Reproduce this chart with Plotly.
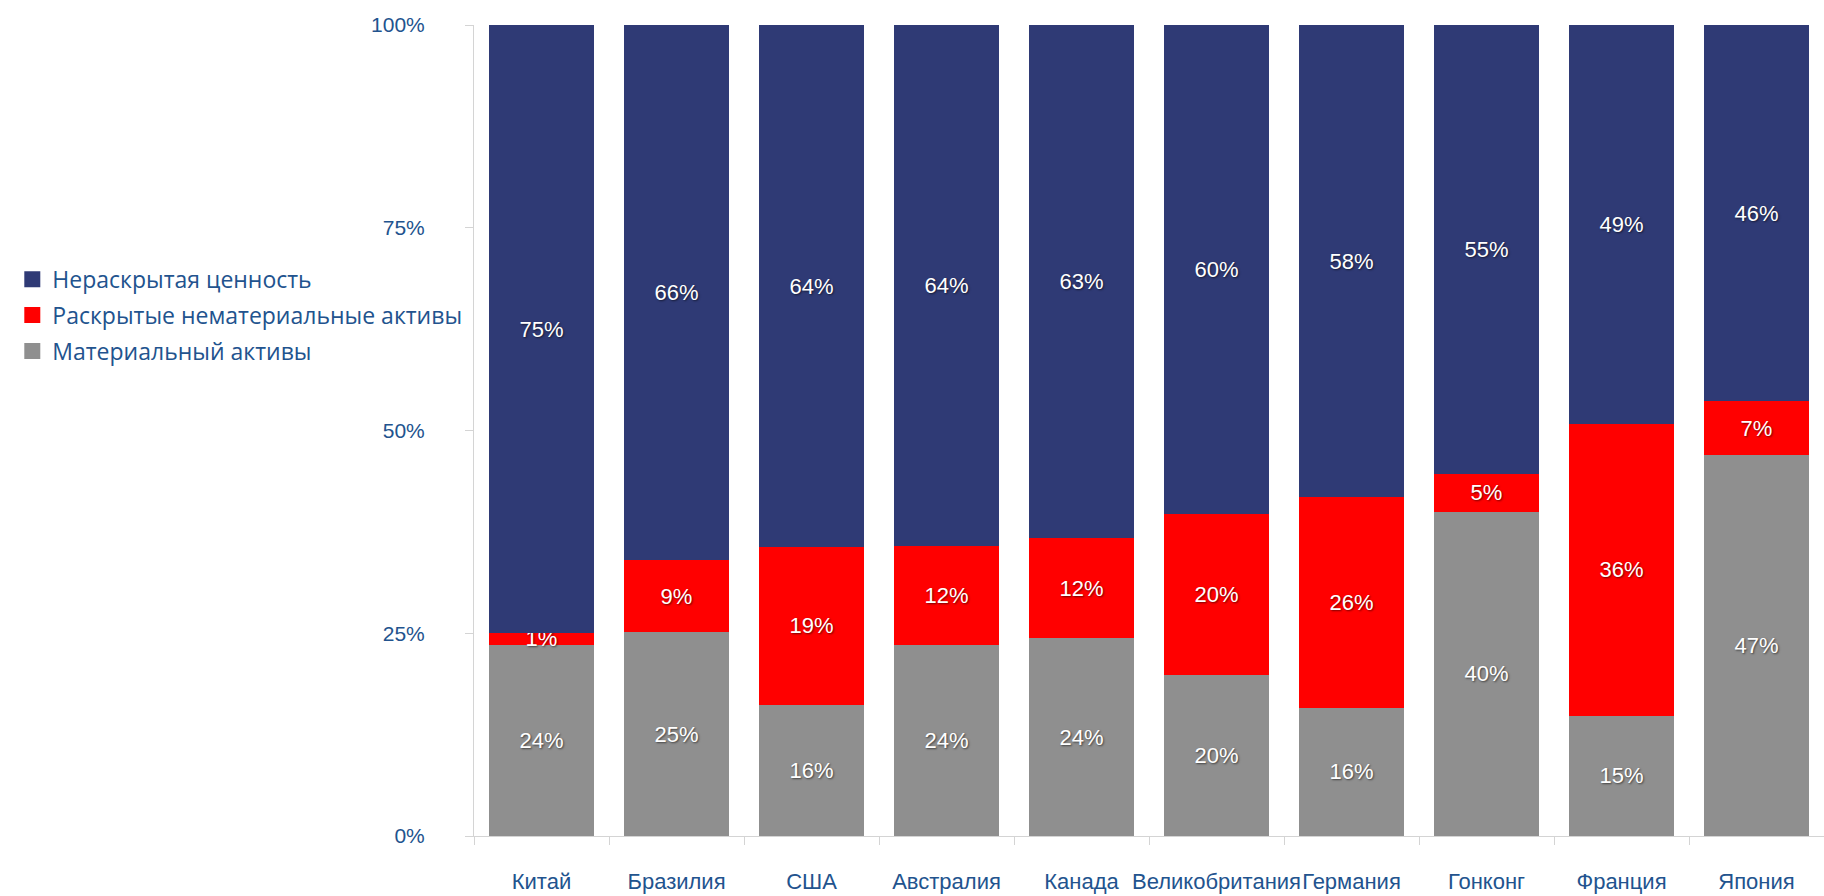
import plotly.graph_objects as go

countries = ["Китай", "Бразилия", "США", "Австралия", "Канада",
             "Великобритания", "Германия", "Гонконг", "Франция", "Япония"]
tangible = [23.6, 25.1, 16.2, 23.6, 24.4, 19.8, 15.8, 40.0, 14.8, 47.0]
disclosed = [1.4, 8.9, 19.4, 12.2, 12.3, 19.9, 26.0, 4.6, 36.0, 6.6]
undisclosed = [75.0, 66.0, 64.4, 64.2, 63.3, 60.3, 58.2, 55.4, 49.2, 46.4]

series_names = ["Материальный активы", "Раскрытые нематериальные активы", "Нераскрытая ценность"]
series_colors = ["#8f8f8f", "#ff0000", "#2f3a75"]
y_ticks = [0, 25, 50, 75, 100]
y_tick_labels = ["0%", "25%", "50%", "75%", "100%"]

TXT = "#22538e"
FONT = "Liberation Sans, Arial, sans-serif"

fig = go.Figure()
for name, vals, col in zip(series_names, [tangible, disclosed, undisclosed], series_colors):
    fig.add_trace(go.Bar(
        x=countries, y=vals, name=name, marker=dict(color=col, line=dict(width=0)),
        texttemplate="%{y:.0f}%", textposition="inside", insidetextanchor="middle",
        textangle=0, constraintext="none",
        textfont=dict(family=FONT, size=22, color="white",
                      shadow="1px 1px 2px rgba(0,0,0,0.55)"),
        showlegend=False, hoverinfo="x+y+name",
    ))

# legend entries (top to bottom: blue, red, gray)
for i in [2, 1, 0]:
    fig.add_trace(go.Scatter(
        x=[None], y=[None], mode="markers", name=series_names[i],
        marker=dict(symbol="square", size=16, color=series_colors[i]),
        showlegend=True, legendgroup=f"g{i}",
    ))

fig.update_layout(
    width=1824, height=896,
    barmode="stack", bargap=0.215,
    plot_bgcolor="white", paper_bgcolor="white",
    margin=dict(l=474, r=0, t=25, b=60, autoexpand=False),
    uniformtext=dict(mode="show", minsize=22),
    legend=dict(x=-0.342, xanchor="left", y=0.713, yanchor="top",
                traceorder="grouped", tracegroupgap=3,
                font=dict(family="Open Sans, sans-serif", size=23, color=TXT),
                itemwidth=30),
    showlegend=True,
)
fig.update_xaxes(
    showline=True, linecolor="#d4d4d4", linewidth=1,
    ticks="outside", tickson="boundaries", ticklen=8, tickcolor="#d4d4d4",
    tickfont=dict(family=FONT, size=22, color=TXT),
    tickangle=0, automargin=False,
    ticklabelstandoff=26, showgrid=False,
)
fig.update_yaxes(
    range=[0, 100], tickmode="array", tickvals=y_ticks, ticktext=y_tick_labels,
    showline=True, linecolor="#d4d4d4", linewidth=1,
    ticks="outside", ticklen=8, tickcolor="#d4d4d4",
    tickfont=dict(family=FONT, size=21, color=TXT),
    automargin=False,
    ticklabelstandoff=36, showgrid=False, zeroline=False,
)

fig.write_html("out.html")
